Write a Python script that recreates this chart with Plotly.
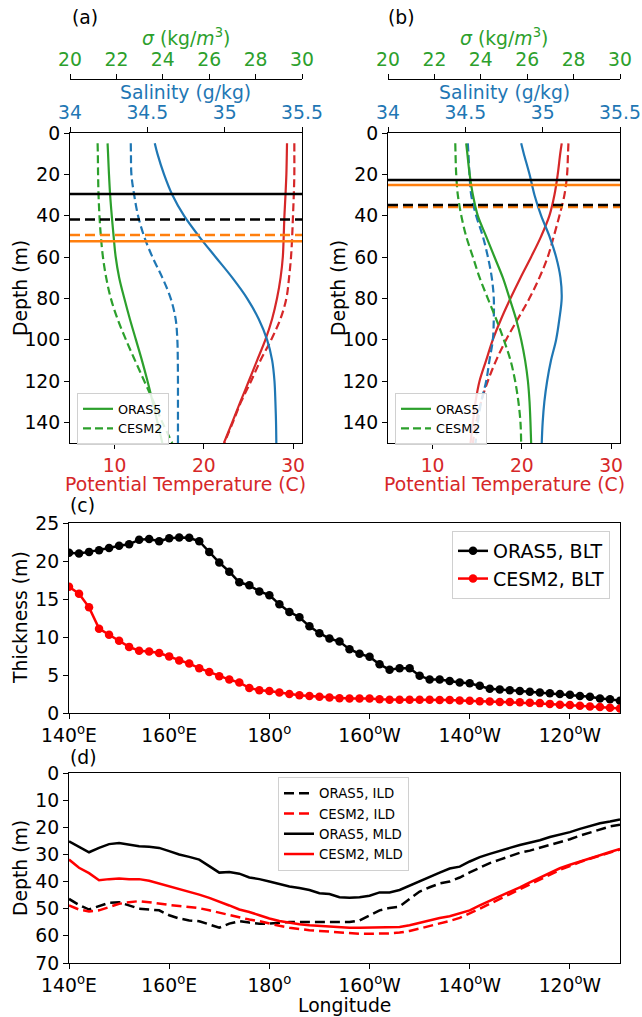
import plotly.graph_objects as go

W, H = 642, 1017
def fx(p): return p / W
def fy(p): return 1 - p / H

FONT = "DejaVu Sans"
FS = 18.8
GREEN = "#2ca02c"; BLUE = "#1f77b4"; RED = "#d62728"; ORANGE = "#ff7f0e"

# ---------------- profiles (a) and (b) ----------------
depth = [5, 10, 20, 30, 40, 50, 60, 70, 80, 90, 100, 110, 120, 130, 140, 150]

sig_oras_a = [21.62, 21.64, 21.68, 21.73, 21.80, 21.88, 21.97, 22.12, 22.34, 22.58, 22.84, 23.10, 23.34, 23.56, 23.77, 23.98]
sig_cesm_a = [21.19, 21.20, 21.21, 21.23, 21.27, 21.33, 21.42, 21.56, 21.76, 22.05, 22.41, 22.80, 23.20, 23.60, 23.98, 24.41]
sal_oras_a = [34.548, 34.565, 34.608, 34.662, 34.737, 34.834, 34.941, 35.049, 35.145, 35.220, 35.274, 35.307, 35.322, 35.328, 35.332, 35.334]
sal_cesm_a = [34.393, 34.394, 34.397, 34.415, 34.440, 34.479, 34.533, 34.597, 34.651, 34.683, 34.694, 34.697, 34.698, 34.698, 34.698, 34.698]
tem_oras_a = [29.32, 29.30, 29.25, 29.15, 29.03, 28.95, 28.85, 28.60, 28.20, 27.65, 26.90, 25.97, 25.04, 24.10, 23.18, 22.25]
tem_cesm_a = [30.14, 30.14, 30.14, 30.08, 29.99, 29.90, 29.77, 29.55, 29.25, 28.58, 27.55, 26.35, 25.30, 24.18, 23.25, 22.30]

sig_oras_b = [23.37, 23.42, 23.52, 23.66, 23.87, 24.23, 24.59, 24.95, 25.24, 25.52, 25.74, 25.91, 26.03, 26.10, 26.14, 26.17]
sig_cesm_b = [22.90, 22.91, 22.94, 23.01, 23.16, 23.37, 23.66, 23.95, 24.30, 24.66, 24.99, 25.28, 25.48, 25.62, 25.71, 25.74]
sal_oras_b = [34.861, 34.878, 34.915, 34.947, 34.990, 35.044, 35.087, 35.115, 35.123, 35.108, 35.087, 35.054, 35.029, 35.011, 35.000, 34.994]
sal_cesm_b = [34.516, 34.520, 34.527, 34.538, 34.570, 34.613, 34.646, 34.671, 34.684, 34.684, 34.678, 34.656, 34.635, 34.603, 34.581, 34.566]
tem_oras_b = [24.47, 24.30, 24.02, 23.65, 23.09, 22.16, 21.04, 19.85, 18.73, 17.68, 16.75, 16.00, 15.26, 14.81, 14.51, 14.25]
tem_cesm_b = [25.22, 25.17, 25.07, 24.77, 24.21, 23.58, 22.90, 21.97, 20.85, 19.55, 18.24, 17.12, 16.19, 15.44, 14.88, 14.51]

# layer depths: ORAS5 MLD, CESM2 MLD, ORAS5 ILD, CESM2 ILD
layers_a = [29.5, 41.8, 52.4, 49.3]
layers_b = [22.8, 34.8, 25.2, 35.8]

# ---------------- (c) and (d) ----------------
lon = list(range(140, 251, 2))
blt_oras = [21.1, 21.0, 21.2, 21.4, 21.7, 22.0, 22.2, 22.8, 22.9, 22.6, 23.0, 23.1, 23.05, 22.6, 21.2,
            19.8, 18.6, 17.2, 16.8, 16.0, 15.5, 14.3, 13.3, 12.6, 11.4, 10.5, 9.8, 9.4, 8.4, 7.8,
            7.4, 6.4, 5.7, 5.9, 5.9, 4.9, 4.4, 4.4, 4.2, 4.0, 3.9, 3.6, 3.2, 3.1, 3.0,
            2.9, 2.8, 2.7, 2.6, 2.5, 2.4, 2.25, 2.15, 1.9, 1.8, 1.6]
blt_cesm = [16.6, 15.7, 13.9, 11.1, 10.3, 9.5, 8.7, 8.2, 8.1, 7.9, 7.45, 6.9, 6.5, 5.9, 5.4,
            4.85, 4.4, 4.0, 3.3, 3.0, 2.9, 2.7, 2.5, 2.35, 2.25, 2.15, 2.05, 1.95, 1.9, 1.9,
            1.9, 1.8, 1.75, 1.75, 1.75, 1.75, 1.75, 1.7, 1.7, 1.65, 1.6, 1.55, 1.5, 1.45, 1.45,
            1.4, 1.35, 1.3, 1.2, 1.1, 1.05, 0.95, 0.85, 0.8, 0.7, 0.6]

mld_oras = [25.2, 27.2, 29.2, 27.6, 26.2, 25.8, 26.4, 27.0, 27.2, 27.6, 28.8, 30.0, 30.9, 31.9, 34.3,
            36.7, 36.5, 37.1, 38.5, 39.1, 40.0, 40.9, 41.8, 42.4, 43.1, 44.3, 44.6, 45.8, 46.0, 45.8,
            45.2, 44.0, 44.0, 43.1, 41.5, 39.7, 38.1, 36.7, 35.2, 34.5, 32.6, 31.0, 29.8, 28.6, 27.6,
            26.5, 25.6, 24.8, 23.6, 22.8, 21.8, 20.6, 19.5, 18.5, 17.9, 17.1]
ild_oras = [46.4, 48.6, 50.3, 49.0, 47.8, 47.6, 48.8, 50.0, 50.3, 50.6, 52.4, 53.6, 54.3, 54.6, 55.8,
            57.0, 55.5, 54.6, 55.1, 55.5, 55.5, 55.2, 54.9, 54.9, 54.9, 54.9, 55.1, 55.1, 54.9, 54.3,
            52.4, 50.6, 49.7, 49.2, 46.4, 43.7, 42.1, 40.7, 40.0, 38.5, 36.6, 34.8, 33.2, 31.9, 30.6,
            29.4, 28.6, 27.6, 26.4, 25.4, 24.4, 23.1, 21.9, 20.7, 19.7, 19.1]
mld_cesm = [31.9, 34.9, 36.9, 39.5, 39.1, 38.9, 39.1, 39.1, 39.7, 40.7, 41.8, 42.7, 43.7, 44.8, 46.0,
            47.3, 48.8, 50.3, 51.2, 52.4, 53.6, 54.5, 55.2, 55.7, 56.1, 56.3, 56.7, 56.9, 57.0, 57.0,
            56.9, 56.9, 56.9, 56.7, 56.1, 55.2, 54.3, 53.4, 52.8, 51.8, 50.6, 48.8, 47.2, 45.4, 43.7,
            42.1, 40.3, 38.5, 36.7, 35.1, 33.8, 32.7, 31.6, 30.3, 29.1, 28.0]
ild_cesm = [48.8, 50.3, 51.0, 50.6, 49.4, 48.2, 47.6, 47.2, 47.6, 48.2, 48.6, 49.0, 49.4, 49.8, 50.6,
            51.5, 52.2, 53.3, 54.0, 54.6, 55.5, 56.3, 57.0, 57.5, 57.9, 58.2, 58.5, 58.8, 59.1, 59.2,
            59.2, 59.2, 59.1, 58.8, 58.2, 57.3, 56.4, 55.5, 54.5, 53.4, 51.8, 50.0, 48.2, 46.4, 44.6,
            42.7, 40.9, 39.1, 37.3, 35.7, 34.3, 32.8, 31.6, 30.4, 29.2, 28.2]

lon_ticks = [140, 160, 180, 200, 220, 240]
lon_labels = ["140<sup>o</sup>E", "160<sup>o</sup>E", "180<sup>o</sup>", "160<sup>o</sup>W",
              "140<sup>o</sup>W", "120<sup>o</sup>W"]

DASH = "8px,4px"
fig = go.Figure()

def prof(x, xa, ya, color, dash, name=None, legend=None, show=False):
    fig.add_trace(go.Scatter(x=x, y=depth, xaxis=xa, yaxis=ya, mode="lines",
                             line=dict(color=color, width=2.2, dash=dash, shape="spline"),
                             name=name, showlegend=show, legend=legend))

# panel a
prof(tem_oras_a, "x", "y", RED, "solid")
prof(tem_cesm_a, "x", "y", RED, DASH)
prof(sal_oras_a, "x2", "y", BLUE, "solid")
prof(sal_cesm_a, "x2", "y", BLUE, DASH)
prof(sig_oras_a, "x3", "y", GREEN, "solid", "ORAS5", "legend", True)
prof(sig_cesm_a, "x3", "y", GREEN, DASH, "CESM2", "legend", True)
# panel b
prof(tem_oras_b, "x4", "y2", RED, "solid")
prof(tem_cesm_b, "x4", "y2", RED, DASH)
prof(sal_oras_b, "x5", "y2", BLUE, "solid")
prof(sal_cesm_b, "x5", "y2", BLUE, DASH)
prof(sig_oras_b, "x6", "y2", GREEN, "solid", "ORAS5", "legend2", True)
prof(sig_cesm_b, "x6", "y2", GREEN, DASH, "CESM2", "legend2", True)

shapes = []
layer_styles = [("black", "solid"), ("black", "10px,5px"), (ORANGE, "solid"), (ORANGE, "10px,5px")]
for layers, xr, yr in [(layers_a, "x domain", "y"), (layers_b, "x4 domain", "y2")]:
    for i in [2, 3, 0, 1]:
        c, d = layer_styles[i]
        shapes.append(dict(type="line", xref=xr, yref=yr, x0=0, x1=1, y0=layers[i], y1=layers[i],
                           line=dict(color=c, width=2.5, dash=d)))

# panel c
fig.add_trace(go.Scatter(x=lon, y=blt_oras, xaxis="x7", yaxis="y3", mode="lines+markers",
                         line=dict(color="black", width=2.5), marker=dict(size=8.5, color="black"),
                         name="ORAS5, BLT", legend="legend3"))
fig.add_trace(go.Scatter(x=lon, y=blt_cesm, xaxis="x7", yaxis="y3", mode="lines+markers",
                         line=dict(color="red", width=2.5), marker=dict(size=8.5, color="red"),
                         name="CESM2, BLT", legend="legend3"))
# panel d
for yv, col, dash, nm in [(ild_oras, "black", "10px,5px", "ORAS5, ILD"),
                          (ild_cesm, "red", "10px,5px", "CESM2, ILD"),
                          (mld_oras, "black", "solid", "ORAS5, MLD"),
                          (mld_cesm, "red", "solid", "CESM2, MLD")]:
    fig.add_trace(go.Scatter(x=lon, y=yv, xaxis="x8", yaxis="y4", mode="lines",
                             line=dict(color=col, width=2.5, dash=dash), name=nm,
                             legend="legend4"))

base = dict(showgrid=False, zeroline=False, ticks="outside", ticklen=5, tickwidth=1,
            tickcolor="black", showline=True, linecolor="black", linewidth=1,
            automargin=False, tickfont=dict(size=FS, color="black"))

def ax(**kw):
    d = dict(base)
    d.update(kw)
    return d

layout = dict(
    width=W, height=H, margin=dict(l=0, r=0, t=0, b=0),
    paper_bgcolor="white", plot_bgcolor="white",
    font=dict(family=FONT, size=FS, color="black"),
    shapes=shapes,
)

annots = []
def note(txt, xp, yp, color="black", angle=0, xanchor="center", size=FS):
    annots.append(dict(text=txt, x=fx(xp), y=fy(yp), xref="paper", yref="paper",
                       xanchor=xanchor, yanchor="middle", showarrow=False, textangle=angle,
                       font=dict(size=size, color=color)))

for (xa, xs, xg, ya, x0, x1) in [("xaxis", "xaxis2", "xaxis3", "yaxis", 70, 302),
                                  ("xaxis4", "xaxis5", "xaxis6", "yaxis2", 388, 620)]:
    xid = "x" if xa == "xaxis" else "x" + xa[5:]
    yid = "y" if ya == "yaxis" else "y" + ya[5:]
    layout[xa] = ax(domain=[fx(x0), fx(x1)], anchor=yid, range=[5, 31], tickvals=[10, 20, 30],
                    tickfont=dict(size=FS, color=RED), mirror=True)
    layout[xs] = ax(overlaying=xid, anchor=yid, side="top", range=[34, 35.5],
                    tickvals=[34, 34.5, 35, 35.5], ticktext=["34", "34.5", "35", "35.5"],
                    tickfont=dict(size=FS, color=BLUE))
    layout[xg] = ax(overlaying=xid, anchor="free", position=fy(79), side="top", range=[20, 30],
                    tickvals=[20, 22, 24, 26, 28, 30], tickfont=dict(size=FS, color=GREEN))
    layout[ya] = ax(domain=[fy(443), fy(133)], anchor=xid, range=[150, 0],
                    tickvals=[0, 20, 40, 60, 80, 100, 120, 140], mirror=True)
    xc = (x0 + x1) / 2
    note("Potential Temperature (C)", xc, 484, RED)
    note("Salinity (g/kg)", xc, 92.5, BLUE)
    note("<i>σ</i> (kg/<i>m</i><sup>3</sup>)", xc, 37, GREEN)
    note("Depth (m)", x0 - 50, 288, angle=-90)

PL, PR = 69, 620
layout["xaxis7"] = ax(domain=[fx(PL), fx(PR)], anchor="y3", range=[140, 250],
                      tickvals=lon_ticks, ticktext=lon_labels, mirror=True)
layout["yaxis3"] = ax(domain=[fy(713), fy(523)], anchor="x7", range=[0, 25],
                      tickvals=[0, 5, 10, 15, 20, 25], mirror=True)
layout["xaxis8"] = ax(domain=[fx(PL), fx(PR)], anchor="y4", range=[140, 250],
                      tickvals=lon_ticks, ticktext=lon_labels, mirror=True)
layout["yaxis4"] = ax(domain=[fy(963), fy(773)], anchor="x8", range=[70, 0],
                      tickvals=[0, 10, 20, 30, 40, 50, 60, 70], mirror=True)
note("Thickness (m)", 20, 618, angle=-90)
note("Depth (m)", 20, 868, angle=-90)
note("Longitude", (PL + PR) / 2, 1005)

leg_common = dict(bgcolor="rgba(255,255,255,0.85)", bordercolor="#d0d0d0", borderwidth=1,
                  xanchor="left", yanchor="top")
layout["legend"] = dict(leg_common, x=fx(77), y=fy(393), font=dict(size=12.8))
layout["legend2"] = dict(leg_common, x=fx(395), y=fy(393), font=dict(size=12.8))
layout["legend3"] = dict(leg_common, x=fx(610), y=fy(531), xanchor="right", font=dict(size=19))
layout["legend4"] = dict(leg_common, x=fx(278), y=fy(777), font=dict(size=13.3))

for txt, xp, yp in [("(a)", 70, 17), ("(b)", 386, 17), ("(c)", 68, 505), ("(d)", 68, 757)]:
    note(txt, xp, yp, xanchor="left")
layout["annotations"] = annots

fig.update_layout(**layout)
fig.write_html("out.html")
